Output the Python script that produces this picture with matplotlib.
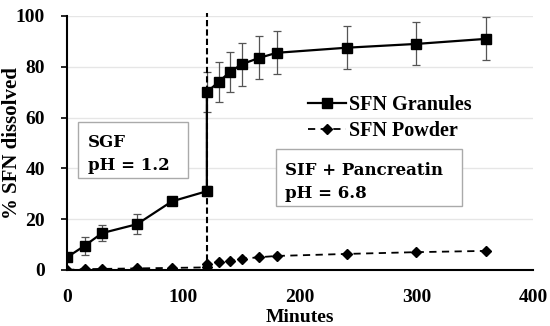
import matplotlib.pyplot as plt
from matplotlib.patches import Rectangle

plt.rcParams['font.family'] = 'Liberation Serif'
plt.rcParams['font.weight'] = 'bold'

# SFN granules
gran_t = [0, 15, 30, 60, 90, 120, 120, 130, 140, 150, 165, 180, 240, 300, 360]
gran_y = [5, 9.5, 14.5, 18, 27, 31, 70, 74, 78, 81, 83.5, 85.5, 87.5, 89, 91]
gran_err = [1, 3.5, 3, 4, 1.5, 2, 8, 8, 8, 8.5, 8.5, 8.5, 8.5, 8.5, 8.5]

# SFN powder
pow_t = [0, 15, 30, 60, 90, 120, 120, 130, 140, 150, 165, 180, 240, 300, 360]
pow_y = [0, 0.3, 0.4, 0.6, 0.8, 1, 2.5, 3.2, 3.7, 4.4, 5, 5.5, 6.3, 7, 7.5]

x_ticks = [0, 100, 200, 300, 400]
y_ticks = [0, 20, 40, 60, 80, 100]

FS = 14

fig = plt.figure(figsize=(5.5, 3.26), dpi=100)
ax = fig.add_axes([0.122, 0.172, 0.847, 0.779])

ax.errorbar(gran_t, gran_y, yerr=gran_err, fmt='none', ecolor='#555555',
            elinewidth=0.9, capsize=3, capthick=0.9, zorder=2)
ax.plot(gran_t, gran_y, '-s', color='black', lw=1.6, ms=7.5, label='SFN Granules', zorder=3)
ax.plot(pow_t, pow_y, '--D', color='black', lw=1.3, ms=5, dashes=(4, 3),
        label='SFN Powder', zorder=3)
ax.plot([120, 120], [0, 101], '--', color='black', lw=1.5, dashes=(3, 1.5),
        clip_on=False, zorder=2)

ax.set_xlim(0, 400)
ax.set_ylim(0, 100)
ax.set_xticks(x_ticks)
ax.set_yticks(y_ticks)
ax.tick_params(axis='both', labelsize=FS, length=4, width=1.2)
ax.tick_params(axis='x', length=0, pad=14)
ax.tick_params(axis='y', pad=12)
ax.yaxis.grid(True, color='#e6e6e6', lw=1)
ax.set_axisbelow(True)
for s in ['top', 'right']:
    ax.spines[s].set_visible(False)
ax.spines['left'].set_linewidth(1.5)
ax.spines['bottom'].set_linewidth(1.5)

ax.set_xlabel('Minutes', fontsize=FS, fontweight='bold', labelpad=2)
ax.set_ylabel('% SFN dissolved', fontsize=15, fontweight='bold')
ax.yaxis.set_label_coords(-0.097, 0.5)

# condition boxes
ax.add_patch(Rectangle((9.4, 36.2), 94.5, 22.1, fc='white', ec='#aaaaaa', lw=1, zorder=4))
ax.text(18, 48.4, 'SGF', family='DejaVu Serif', fontsize=12, fontweight='bold',
        va='baseline', zorder=5)
ax.text(18, 39.4, 'pH = 1.2', family='DejaVu Serif', fontsize=12, fontweight='bold',
        va='baseline', zorder=5)
ax.add_patch(Rectangle((179.8, 25.2), 159.7, 22.4, fc='white', ec='#aaaaaa', lw=1, zorder=4))
ax.text(187, 37.4, 'SIF + Pancreatin', family='DejaVu Serif', fontsize=12,
        fontweight='bold', va='baseline', zorder=5)
ax.text(187, 28.3, 'pH = 6.8', family='DejaVu Serif', fontsize=12,
        fontweight='bold', va='baseline', zorder=5)

ax.legend(loc='upper left', bbox_to_anchor=(0.5, 0.722), frameon=False,
          fontsize=14.5, handlelength=1.9, handletextpad=0.15, labelspacing=0.3,
          borderaxespad=0)

fig.savefig('out.png', dpi=100)
